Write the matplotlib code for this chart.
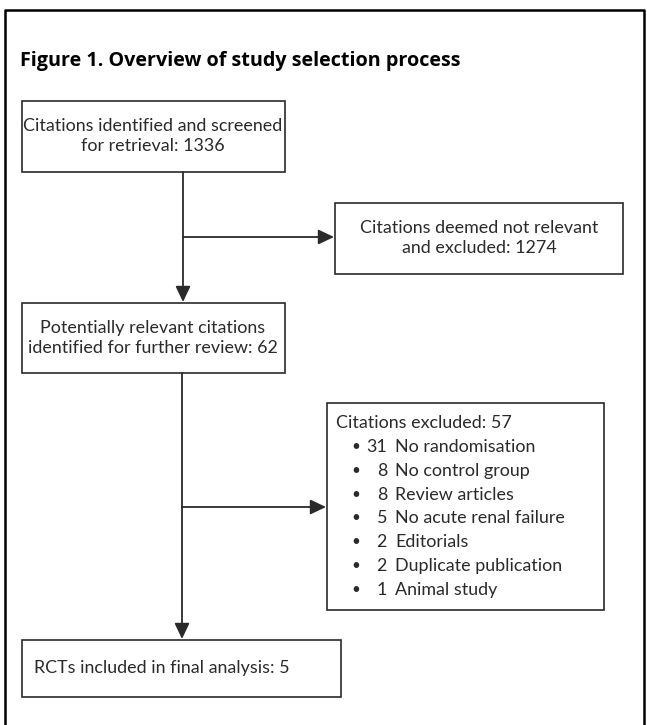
import matplotlib.pyplot as plt
from matplotlib.patches import Rectangle

title = 'Figure 1. Overview of study selection process'
n_screened = 1336
n_not_relevant = 1274
n_review = 62
n_excluded = 57
n_final = 5
reason_counts = [31, 8, 8, 5, 2, 2, 1]
reason_labels = ['No randomisation', 'No control group', 'Review articles',
                 'No acute renal failure', 'Editorials', 'Duplicate publication',
                 'Animal study']

plt.rcParams['font.family'] = ['Lato', 'DejaVu Sans']
ink = '#2a2a2a'
fs = 12.9

fig = plt.figure(figsize=(6.47, 7.25), dpi=100)
ax = fig.add_axes([0, 0, 1, 1])
ax.set_xlim(0, 647)
ax.set_ylim(725, 0)
ax.axis('off')

def box(x0, y0, x1, y1):
    ax.add_patch(Rectangle((x0, y0), x1 - x0, y1 - y0, fill=False, ec=ink, lw=1.2))

def arrow(x0, y0, x1, y1):
    ax.annotate('', xy=(x1, y1), xytext=(x0, y0),
                arrowprops=dict(arrowstyle='-|>,head_length=0.95,head_width=0.45',
                                color=ink, lw=1.3, shrinkA=0, shrinkB=0))

# outer frame
ax.plot([5, 5, 644, 644], [730, 10, 10, 730], color='black', lw=1.8)
ax.text(20, 61, title, fontsize=14.2, fontweight='bold',
        family=['Open Sans', 'DejaVu Sans'],
        va='center', ha='left', color='black')

# boxes
box(22, 101, 285, 172)
ax.text(153, 136, 'Citations identified and screened\nfor retrieval: %d' % n_screened,
        ha='center', va='center', fontsize=fs, color=ink, linespacing=1.35)

box(335, 203, 623, 274)
ax.text(479, 238, 'Citations deemed not relevant\nand excluded: %d' % n_not_relevant,
        ha='center', va='center', fontsize=fs, color=ink, linespacing=1.35)

box(22, 303, 285, 373)
ax.text(153, 338, 'Potentially relevant citations\nidentified for further review: %d' % n_review,
        ha='center', va='center', fontsize=fs, color=ink, linespacing=1.35)

box(327, 403, 604, 610)
ax.text(336, 423, 'Citations excluded: %d' % n_excluded, ha='left', va='center',
        fontsize=fs, color=ink)
for i, (c, lab) in enumerate(zip(reason_counts, reason_labels)):
    y = 447 + i * 23.8
    ax.text(356, y, '\u2022', ha='center', va='center', fontsize=fs - 2, color=ink)
    ax.text(387, y, str(c), ha='right', va='center', fontsize=fs, color=ink)
    ax.text(395, y, lab, ha='left', va='center', fontsize=fs, color=ink)

box(22, 640, 341, 697)
ax.text(34, 668, 'RCTs included in final analysis: %d' % n_final, ha='left', va='center',
        fontsize=fs, color=ink)

# connectors
arrow(183, 172, 183, 302)
arrow(183, 237, 334, 237)
arrow(182, 373, 182, 639)
arrow(182, 507, 326, 507)

fig.savefig('out.png', dpi=100)
